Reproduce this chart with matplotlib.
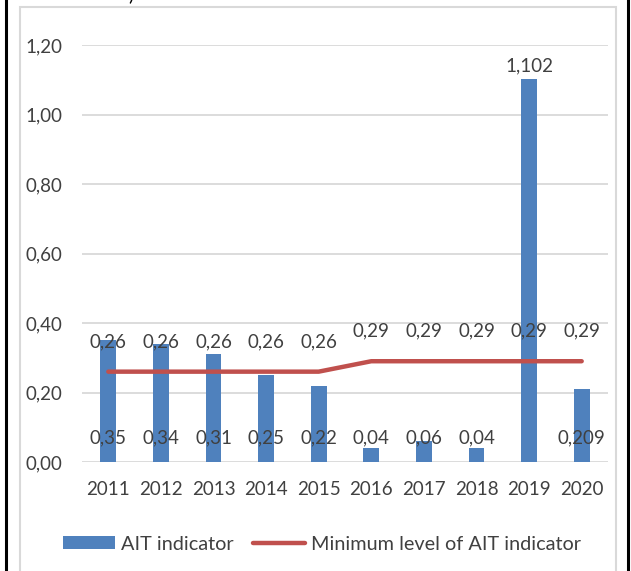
import matplotlib
matplotlib.use("Agg")
import matplotlib.pyplot as plt
from matplotlib.patches import Rectangle, Patch
from matplotlib.lines import Line2D
from matplotlib.ticker import FuncFormatter

years = ["2011", "2012", "2013", "2014", "2015", "2016", "2017", "2018", "2019", "2020"]
ait_indicator = [0.35, 0.34, 0.31, 0.25, 0.22, 0.04, 0.06, 0.04, 1.102, 0.209]
min_level = [0.26, 0.26, 0.26, 0.26, 0.26, 0.29, 0.29, 0.29, 0.29, 0.29]
y_ticks = [0.0, 0.2, 0.4, 0.6, 0.8, 1.0, 1.2]
series_names = ["AIT indicator", "Minimum level of AIT indicator"]

BLUE = "#4F81BD"
RED = "#C0504D"
TEXT = "#404040"
GRID = "#D9D9D9"
FONT = "Lato"
FS = 13.5

plt.rcParams["font.family"] = [FONT, "DejaVu Sans"]

W, H = 631, 571
fig = plt.figure(figsize=(W / 100, H / 100), dpi=100)


def fx(px):
    return px / W


def fy(py):
    return 1 - py / H


ax = fig.add_axes([fx(82), fy(462), fx(608) - fx(82), fy(45) - fy(462)])
x = list(range(len(years)))

ax.bar(x, ait_indicator, width=0.3, color=BLUE, zorder=2)
ax.plot(x, min_level, color=RED, lw=3.2, solid_capstyle="round", zorder=3)

ax.set_xlim(-0.5, len(years) - 0.5)
ax.set_ylim(0, 1.2)
ax.set_yticks(y_ticks)
ax.yaxis.set_major_formatter(FuncFormatter(lambda v, p: f"{v:.2f}".replace(".", ",")))
ax.set_xticks(x)
ax.set_xticklabels(years)
ax.tick_params(axis="both", length=0, labelsize=FS, colors=TEXT)
ax.tick_params(axis="y", pad=14)
ax.tick_params(axis="x", pad=14)
ax.grid(axis="y", color=GRID, lw=1.3, zorder=0)
ax.set_axisbelow(True)
for s in ax.spines.values():
    s.set_visible(False)


def fmt(v):
    return f"{v:g}".replace(".", ",")


# bar values: inside base, except the tall bar which is labelled above its top
for i, v in enumerate(ait_indicator):
    if v > 1:
        ax.annotate(fmt(v), (i, v), xytext=(0, 13), textcoords="offset pixels",
                    ha="center", va="center", fontsize=FS, color=TEXT, zorder=5)
    else:
        ax.annotate(fmt(v), (i, 0), xytext=(0, 24), textcoords="offset pixels",
                    ha="center", va="center", fontsize=FS, color=TEXT, zorder=5)

# minimum level values above the line
for i, v in enumerate(min_level):
    ax.annotate(fmt(v), (i, v), xytext=(0, 30), textcoords="offset pixels",
                ha="center", va="center", fontsize=FS, color=TEXT, zorder=5)

handles = [Patch(facecolor=BLUE, edgecolor="none"),
           Line2D([0], [0], color=RED, lw=3.2, solid_capstyle="round")]
fig.legend(handles, series_names, loc="center", bbox_to_anchor=(fx(322), fy(544)),
           ncol=2, frameon=False, fontsize=14.3, labelcolor=TEXT,
           handlelength=2.6, handleheight=0.6, handletextpad=0.3, columnspacing=1.0)

# chart frame and page border
fig.add_artist(Rectangle((fx(20), fy(H + 10)), fx(616) - fx(20), fy(7) - fy(H + 10),
                         transform=fig.transFigure, fill=False, edgecolor=GRID, lw=1.5))
fig.add_artist(Line2D([fx(6), fx(6)], [0, 1], transform=fig.transFigure, color="black", lw=2.2))
fig.add_artist(Line2D([fx(627.5), fx(627.5)], [0, 1], transform=fig.transFigure, color="black", lw=2.2))
fig.text(fx(131), fy(3), ")", fontsize=FS, color="black", ha="center", va="bottom")

fig.savefig("out.png", dpi=100)
